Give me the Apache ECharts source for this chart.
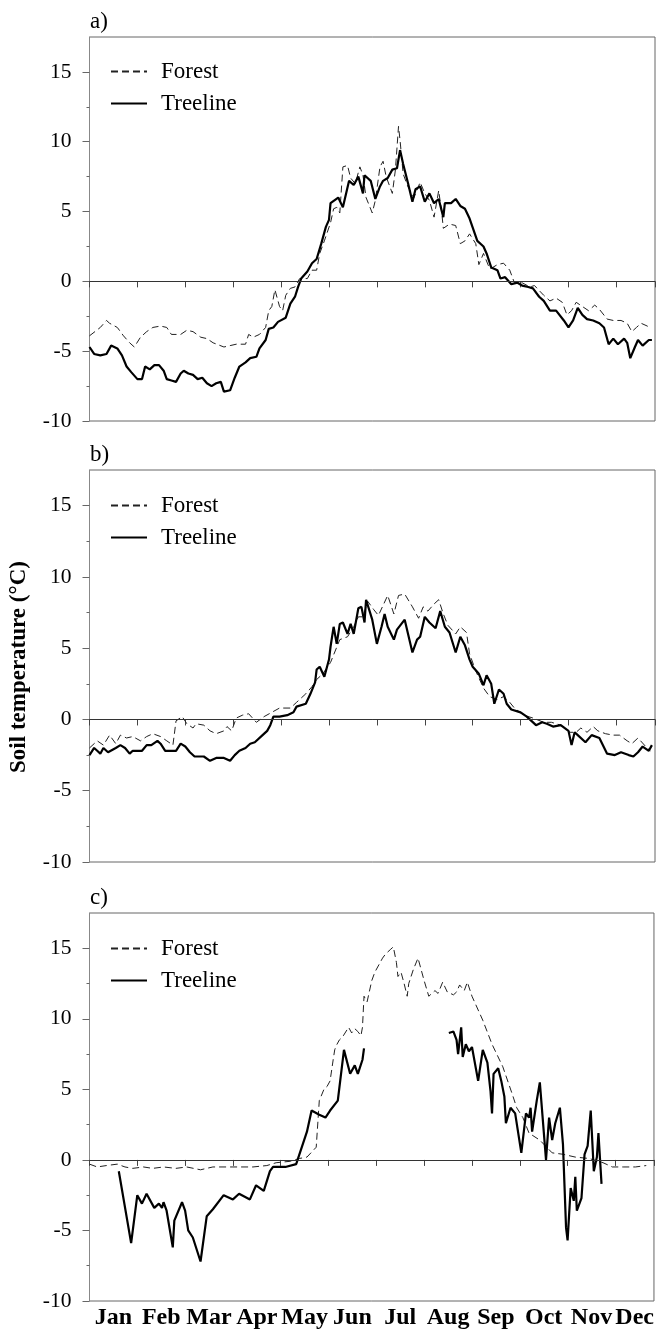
<!DOCTYPE html>
<html>
<head>
<meta charset="utf-8">
<script src="https://cdn.jsdelivr.net/npm/echarts/dist/echarts.min.js"></script>
<style>
html, body { margin: 0; padding: 0; background: #fff; }
#chartmain { width: 657px; height: 1331px; }
</style>
</head>
<body>
<div id="chartmain"></div>
<script>
// month axis (day of year), ticks every 31 days
var months = ['Jan', 'Feb', 'Mar', 'Apr', 'May', 'Jun', 'Jul', 'Aug', 'Sep', 'Oct', 'Nov', 'Dec'];
var monthStarts = [0, 31, 62, 93, 124, 155, 186, 217, 248, 279, 310, 341, 366];
var yTicks = [-10, -5, 0, 5, 10, 15];
var yMinorTicks = [-7.5, -2.5, 2.5, 7.5, 12.5];
var panelLabels = ['a)', 'b)', 'c)'];

// a) [day, soil temperature]
var aForest = [[0,-3.9],[7,-3.3],[11,-2.8],[13,-3.0],[18,-3.3],[22,-3.9],[26,-4.4],[29,-4.7],[33,-4.0],[37,-3.6],[41,-3.3],[46,-3.2],[50,-3.3],[53,-3.8],[59,-3.8],[63,-3.5],[67,-3.6],[72,-4.0],[76,-4.1],[80,-4.4],[87,-4.7],[91,-4.6],[95,-4.5],[101,-4.5],[103,-3.8],[106,-4.0],[110,-3.8],[114,-3.3],[116,-2.1],[118,-1.8],[120,-0.6],[122,-1.4],[123,-1.8],[125,-2.1],[127,-1.0],[130,-0.5],[133,-0.4],[136,0.2],[141,0.2],[144,0.8],[147,0.8],[149,2.0],[152,2.9],[156,4.2],[158,5.2],[160,5.3],[162,4.9],[164,8.2],[167,8.3],[169,7.4],[172,7.0],[175,8.2],[177,7.6],[179,6.0],[183,4.9],[185,5.8],[188,8.2],[190,8.6],[192,7.5],[196,6.3],[198,8.0],[200,11.1],[201,10.1],[203,7.7],[206,6.8],[210,6.0],[214,7.1],[217,6.3],[220,5.8],[223,4.6],[226,6.5],[228,4.9],[229,3.8],[233,4.1],[237,4.0],[240,2.7],[243,2.9],[246,3.4],[250,2.7],[252,1.2],[255,2.0],[259,0.9],[261,1.0],[264,1.2],[268,1.3],[272,0.8],[275,-0.1],[280,-0.1],[285,-0.4],[288,-0.3],[294,-1.0],[298,-1.4],[302,-1.2],[306,-1.5],[309,-2.4],[312,-2.1],[315,-1.5],[319,-1.8],[323,-2.1],[327,-1.7],[330,-2.0],[335,-2.7],[339,-2.8],[344,-2.8],[348,-3.0],[351,-3.6],[354,-3.3],[357,-3.0],[361,-3.2],[363,-3.4]];
var aTreeline = [[0,-4.7],[3,-5.2],[7,-5.3],[11,-5.2],[14,-4.6],[18,-4.8],[21,-5.3],[24,-6.1],[27,-6.5],[31,-7.0],[34,-7.0],[36,-6.1],[39,-6.3],[42,-6.0],[45,-6.0],[48,-6.4],[50,-7.0],[53,-7.1],[54,-7.0],[56,-7.2],[59,-6.6],[61,-6.4],[64,-6.6],[67,-6.7],[70,-7.0],[73,-6.9],[76,-7.3],[79,-7.5],[82,-7.3],[85,-7.2],[87,-7.9],[91,-7.8],[94,-6.9],[97,-6.1],[101,-5.8],[104,-5.5],[108,-5.4],[110,-4.8],[114,-4.2],[116,-3.4],[119,-3.3],[122,-2.9],[127,-2.6],[130,-1.6],[133,-1.1],[135,-0.4],[137,0.2],[141,0.7],[144,1.3],[147,1.6],[150,2.7],[153,3.9],[155,4.4],[156,5.6],[161,6.0],[164,5.3],[168,7.2],[171,6.9],[174,7.5],[177,6.3],[178,7.6],[182,7.2],[185,5.9],[188,6.8],[190,7.2],[193,7.4],[196,8.0],[199,8.1],[201,9.4],[203,8.4],[206,7.1],[209,5.7],[211,6.6],[214,6.8],[217,5.7],[220,6.3],[223,5.6],[226,5.9],[229,4.6],[230,5.6],[234,5.6],[237,5.9],[240,5.4],[243,5.2],[246,4.5],[251,2.9],[255,2.5],[257,2.0],[260,1.0],[264,0.8],[266,0.2],[269,0.3],[273,-0.2],[277,-0.1],[280,-0.3],[284,-0.4],[287,-0.5],[291,-1.1],[294,-1.4],[298,-2.1],[302,-2.1],[307,-2.8],[310,-3.3],[313,-2.8],[316,-1.9],[319,-2.4],[322,-2.7],[326,-2.8],[330,-3.0],[333,-3.3],[336,-4.5],[339,-4.1],[342,-4.5],[346,-4.1],[348,-4.4],[350,-5.5],[353,-4.7],[355,-4.2],[358,-4.6],[362,-4.2],[364,-4.2]];

// b)
var bForest = [[0,-2.0],[5,-1.5],[9,-1.8],[13,-1.1],[17,-1.7],[20,-1.1],[24,-1.3],[28,-1.2],[33,-1.5],[37,-1.2],[41,-1.0],[46,-1.2],[50,-1.5],[54,-1.8],[56,-0.1],[60,0.2],[63,-0.3],[67,-0.6],[69,-0.3],[74,-0.4],[78,-0.8],[82,-1.0],[87,-0.8],[89,-0.5],[92,-0.8],[95,0.1],[99,0.3],[103,0.4],[108,-0.2],[113,0.2],[118,0.5],[123,0.8],[130,0.8],[134,1.2],[140,1.8],[144,2.3],[147,2.8],[151,3.2],[156,4.0],[162,5.6],[167,5.8],[171,6.5],[174,7.2],[177,7.2],[180,8.3],[184,7.7],[187,7.3],[190,8.0],[193,8.7],[197,7.4],[200,8.7],[204,8.8],[209,7.9],[213,7.1],[216,7.9],[219,7.6],[223,8.1],[226,8.4],[229,7.4],[232,6.6],[237,6.0],[240,6.5],[244,6.1],[246,4.6],[250,3.4],[255,2.2],[259,1.6],[264,1.4],[268,1.6],[272,1.2],[275,0.8],[281,0.3],[287,0.1],[294,-0.2],[299,-0.2],[305,-0.4],[311,-0.9],[315,-0.9],[318,-0.6],[322,-0.9],[326,-0.5],[329,-0.8],[334,-1.0],[339,-1.1],[343,-1.1],[348,-1.5],[351,-1.7],[355,-1.3],[360,-1.9],[363,-2.2]];
var bTreeline = [[0,-2.5],[3,-2.0],[5,-2.2],[7,-2.4],[9,-2.0],[12,-2.3],[17,-2.0],[20,-1.8],[23,-2.0],[26,-2.4],[28,-2.2],[34,-2.2],[37,-1.8],[40,-1.8],[44,-1.5],[46,-1.7],[49,-2.2],[53,-2.2],[56,-2.2],[59,-1.7],[62,-1.9],[65,-2.3],[68,-2.6],[74,-2.6],[78,-2.9],[82,-2.7],[87,-2.7],[91,-2.9],[94,-2.5],[97,-2.2],[101,-2.0],[104,-1.7],[107,-1.6],[112,-1.1],[115,-0.8],[117,-0.4],[119,0.2],[123,0.2],[128,0.3],[132,0.5],[134,0.9],[140,1.1],[143,1.8],[146,2.6],[147,3.5],[149,3.7],[152,3.0],[155,4.2],[156,5.1],[158,6.5],[160,5.3],[162,6.7],[164,6.8],[167,6.0],[169,6.7],[171,6.0],[174,7.8],[176,7.9],[178,6.8],[179,8.4],[183,7.0],[186,5.3],[189,6.5],[191,7.4],[193,6.5],[197,5.6],[199,6.3],[204,7.0],[209,4.7],[212,5.6],[214,5.8],[217,7.2],[220,6.8],[224,6.4],[227,7.6],[230,6.5],[233,6.1],[237,4.7],[240,5.8],[243,5.2],[246,4.2],[248,3.7],[252,3.2],[255,2.4],[257,3.1],[260,2.5],[262,1.1],[265,2.1],[268,1.8],[270,1.1],[273,0.7],[279,0.5],[283,0.2],[286,-0.1],[289,-0.4],[293,-0.2],[296,-0.3],[300,-0.5],[305,-0.4],[310,-0.8],[312,-1.8],[314,-0.9],[316,-1.1],[321,-1.6],[325,-1.1],[330,-1.3],[335,-2.4],[340,-2.5],[344,-2.3],[349,-2.5],[352,-2.6],[355,-2.3],[358,-1.9],[362,-2.2],[364,-1.8]];

// c) treeline logger has a gap in summer
var cForest = [[0,-0.3],[5,-0.5],[11,-0.4],[18,-0.3],[23,-0.5],[28,-0.6],[35,-0.5],[41,-0.6],[48,-0.5],[56,-0.6],[63,-0.5],[72,-0.7],[80,-0.5],[93,-0.5],[106,-0.5],[115,-0.4],[121,-0.2],[130,-0.1],[136,0.1],[141,0.2],[147,0.9],[149,4.2],[152,5.0],[154,5.2],[156,5.6],[158,7.1],[159,7.8],[160,8.1],[162,8.5],[164,8.7],[168,9.4],[170,9.0],[172,9.3],[174,9.1],[176,8.8],[177,9.4],[178,11.6],[180,11.2],[183,12.7],[185,13.3],[188,13.9],[190,14.3],[192,14.6],[195,14.9],[197,15.1],[199,14.0],[200,13.0],[202,13.3],[204,12.5],[206,11.6],[207,12.5],[210,13.5],[213,14.3],[215,13.5],[217,12.7],[220,11.6],[224,12.0],[226,11.8],[229,12.6],[232,11.9],[236,11.7],[238,11.9],[240,12.4],[243,12.0],[245,12.6],[248,11.6],[255,9.9],[261,8.2],[268,6.6],[274,4.7],[277,3.7],[281,3.0],[285,1.9],[292,1.4],[300,0.5],[307,0.4],[315,0.2],[324,0.1],[333,-0.2],[339,-0.5],[346,-0.5],[354,-0.5],[361,-0.4]];
var cTreelineSpring = [[19,-0.8],[27,-5.9],[31,-2.5],[34,-3.1],[37,-2.4],[42,-3.4],[45,-3.1],[47,-3.4],[48,-3.0],[50,-3.6],[54,-6.2],[55,-4.3],[60,-3.0],[62,-3.6],[64,-5.0],[67,-5.5],[72,-7.2],[76,-4.0],[80,-3.5],[87,-2.5],[93,-2.8],[97,-2.4],[104,-2.8],[108,-1.8],[113,-2.2],[117,-0.8],[119,-0.5],[127,-0.5],[134,-0.3],[141,2.0],[144,3.5],[149,3.2],[153,3.0],[156,3.5],[161,4.2],[165,7.8],[169,6.1],[172,6.7],[174,6.1],[177,7.1],[178,7.9]];
var cTreelineAutumn = [[233,9.0],[236,9.1],[238,8.5],[239,7.5],[241,9.4],[242,7.3],[244,8.2],[246,7.7],[248,8.0],[252,5.6],[255,7.8],[258,6.9],[260,4.9],[261,3.3],[262,6.1],[265,6.5],[267,5.6],[269,4.5],[270,2.6],[273,3.7],[276,3.3],[280,0.5],[283,3.3],[285,3.0],[286,3.7],[287,2.0],[290,4.2],[292,5.5],[296,0.0],[298,3.0],[300,1.4],[302,2.6],[305,3.7],[307,1.1],[309,-4.8],[310,-5.7],[312,-2.0],[314,-2.9],[315,-1.2],[316,-3.6],[319,-2.7],[321,0.4],[323,1.0],[325,3.5],[327,-0.8],[329,0.2],[330,1.9],[332,-1.7]];

var monthMids = [];
for (var i = 0; i < months.length; i++) {
	monthMids.push((monthStarts[i] + monthStarts[i + 1]) / 2);
}

var serif = '"Liberation Serif", "Times New Roman", serif';
var gridTops = [37, 470, 913];
var gridHeights = [384, 392, 388];
var legendTops = [60, 494, 937];

var grids = [], xAxes = [], yAxes = [], legends = [], graphics = [];
for (var k = 0; k < 3; k++) {
	grids.push({
		left : 89.5,
		width : 565.5,
		top : gridTops[k],
		height : gridHeights[k],
		show : true,
		borderColor : '#666',
		borderWidth : 1
	});
	xAxes.push({
		type : 'value',
		gridIndex : k,
		min : 0,
		max : 366,
		axisLine : { lineStyle : { color : '#444', width : 1 } },
		axisTick : { customValues : monthStarts, length : 6, lineStyle : { color : '#444' } },
		axisLabel : {
			show : k === 2,
			customValues : monthMids,
			formatter : function(v) { return months[monthMids.indexOf(v)] || ''; },
			fontFamily : serif,
			fontWeight : 'bold',
			fontSize : 24,
			color : '#000',
			margin : 5
		},
		splitLine : { show : false }
	});
	yAxes.push({
		type : 'value',
		gridIndex : k,
		position : 'left',
		min : -10,
		max : 17.5,
		axisLine : { show : true, lineStyle : { color : '#888' } },
		axisTick : { show : true, customValues : yTicks, length : 7, lineStyle : { color : '#666' } },
		axisLabel : { customValues : yTicks, fontFamily : serif, fontSize : 21.5, color : '#000', margin : 18 },
		splitLine : { show : false }
	});
	// short ticks halfway between the labelled ones
	yAxes.push({
		type : 'value',
		gridIndex : k,
		position : 'left',
		offset : 0,
		min : -10,
		max : 17.5,
		axisLine : { show : false },
		axisTick : { show : true, customValues : yMinorTicks, length : 3, lineStyle : { color : '#666' } },
		axisLabel : { show : false },
		splitLine : { show : false }
	});
	legends.push({
		data : ['Forest', 'Treeline'],
		orient : 'vertical',
		left : 110,
		top : legendTops[k],
		padding : 0,
		itemWidth : 36,
		itemHeight : 14,
		itemGap : 9,
		selectedMode : false,
		itemStyle : { opacity : 0 },
		textStyle : { fontFamily : serif, fontSize : 23, color : '#000', padding : [0, 0, 0, 9] }
	});
	graphics.push({
		type : 'text',
		left : 90,
		top : gridTops[k] - 27,
		style : { text : panelLabels[k], font : '23px ' + serif, fill : '#000' }
	});
}
graphics.push({
	type : 'text',
	x : 19,
	y : 667,
	rotation : Math.PI / 2,
	style : {
		text : 'Soil temperature (°C)',
		font : 'bold 23px ' + serif,
		fill : '#000',
		align : 'center',
		verticalAlign : 'middle'
	}
});

function forestSeries(k, data) {
	return {
		name : 'Forest',
		type : 'line',
		xAxisIndex : k,
		yAxisIndex : 2 * k,
		data : data,
		symbol : 'none',
		lineStyle : { color : '#222', width : 1, type : [7, 4] },
		itemStyle : { color : '#222' },
		markLine : {
			silent : true,
			symbol : ['none', 'none'],
			label : { show : false },
			lineStyle : { color : '#333', width : 1, type : 'solid' },
			data : [{ yAxis : 0 }]
		}
	};
}
function treelineSeries(k, data) {
	return {
		name : 'Treeline',
		type : 'line',
		xAxisIndex : k,
		yAxisIndex : 2 * k,
		data : data,
		symbol : 'none',
		lineStyle : { color : '#000', width : 2.2 },
		itemStyle : { color : '#000' }
	};
}

var option = {
	animation : false,
	backgroundColor : '#fff',
	grid : grids,
	xAxis : xAxes,
	yAxis : yAxes,
	legend : legends,
	graphic : graphics,
	series : [
		forestSeries(0, aForest), treelineSeries(0, aTreeline),
		forestSeries(1, bForest), treelineSeries(1, bTreeline),
		forestSeries(2, cForest), treelineSeries(2, cTreelineSpring), treelineSeries(2, cTreelineAutumn)
	]
};

var myChart = echarts.init(document.getElementById('chartmain'));
myChart.setOption(option);
</script>
</body>
</html>
